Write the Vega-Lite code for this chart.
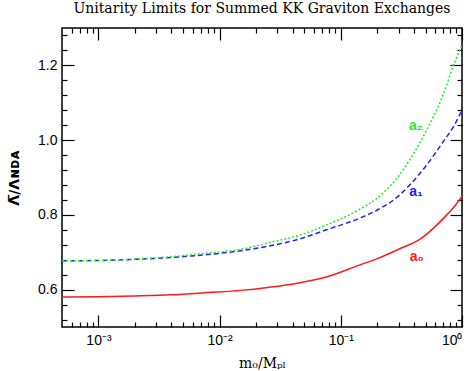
{
  "$schema": "https://vega.github.io/schema/vega-lite/v6.json",
  "width": 400,
  "height": 299,
  "autosize": "none",
  "padding": {"left": 62, "top": 28, "right": 12, "bottom": 44},
  "background": "white",
  "title": {
    "text": "Unitarity Limits for Summed KK Graviton Exchanges",
    "font": "DejaVu Serif",
    "fontSize": 14,
    "fontWeight": "normal",
    "anchor": "middle",
    "offset": 11,
    "color": "black"
  },
  "config": {
    "view": {"stroke": "black", "strokeWidth": 1.5},
    "axis": {
      "domain": false,
      "grid": false,
      "tickColor": "black",
      "tickWidth": 1.2,
      "labelColor": "black",
      "labelFont": "Liberation Sans",
      "labelFontSize": 14,
      "titleColor": "black"
    }
  },
  "datasets": {
    "curves": [
      {"series": "a0", "x": 0.0005, "y": 0.580},
      {"series": "a0", "x": 0.001, "y": 0.581},
      {"series": "a0", "x": 0.002, "y": 0.583},
      {"series": "a0", "x": 0.004, "y": 0.586},
      {"series": "a0", "x": 0.008, "y": 0.592},
      {"series": "a0", "x": 0.015, "y": 0.598},
      {"series": "a0", "x": 0.025, "y": 0.606},
      {"series": "a0", "x": 0.045, "y": 0.618},
      {"series": "a0", "x": 0.076, "y": 0.634},
      {"series": "a0", "x": 0.14, "y": 0.665},
      {"series": "a0", "x": 0.2, "y": 0.683},
      {"series": "a0", "x": 0.3, "y": 0.708},
      {"series": "a0", "x": 0.45, "y": 0.735},
      {"series": "a0", "x": 0.58, "y": 0.764},
      {"series": "a0", "x": 0.75, "y": 0.800},
      {"series": "a0", "x": 0.88, "y": 0.825},
      {"series": "a0", "x": 1.0, "y": 0.850},
      {"series": "a1", "x": 0.0005, "y": 0.677},
      {"series": "a1", "x": 0.001, "y": 0.678},
      {"series": "a1", "x": 0.002, "y": 0.681},
      {"series": "a1", "x": 0.004, "y": 0.686},
      {"series": "a1", "x": 0.008, "y": 0.694},
      {"series": "a1", "x": 0.015, "y": 0.704},
      {"series": "a1", "x": 0.025, "y": 0.716},
      {"series": "a1", "x": 0.045, "y": 0.735},
      {"series": "a1", "x": 0.076, "y": 0.760},
      {"series": "a1", "x": 0.14, "y": 0.790},
      {"series": "a1", "x": 0.2, "y": 0.813},
      {"series": "a1", "x": 0.3, "y": 0.851},
      {"series": "a1", "x": 0.37, "y": 0.880},
      {"series": "a1", "x": 0.51, "y": 0.933},
      {"series": "a1", "x": 0.70, "y": 0.996},
      {"series": "a1", "x": 0.85, "y": 1.036},
      {"series": "a1", "x": 1.0, "y": 1.080},
      {"series": "a2", "x": 0.0005, "y": 0.677},
      {"series": "a2", "x": 0.001, "y": 0.678},
      {"series": "a2", "x": 0.002, "y": 0.682},
      {"series": "a2", "x": 0.004, "y": 0.688},
      {"series": "a2", "x": 0.008, "y": 0.698},
      {"series": "a2", "x": 0.015, "y": 0.708},
      {"series": "a2", "x": 0.025, "y": 0.725},
      {"series": "a2", "x": 0.045, "y": 0.745},
      {"series": "a2", "x": 0.076, "y": 0.773},
      {"series": "a2", "x": 0.14, "y": 0.813},
      {"series": "a2", "x": 0.2, "y": 0.845},
      {"series": "a2", "x": 0.3, "y": 0.904},
      {"series": "a2", "x": 0.37, "y": 0.947},
      {"series": "a2", "x": 0.51, "y": 1.027},
      {"series": "a2", "x": 0.70, "y": 1.122},
      {"series": "a2", "x": 0.85, "y": 1.200},
      {"series": "a2", "x": 1.0, "y": 1.255}
    ],
    "labels": [
      {"series": "a0", "label": "a₀", "x": 0.424, "y": 0.687},
      {"series": "a1", "label": "a₁", "x": 0.417, "y": 0.861},
      {"series": "a2", "label": "a₂", "x": 0.417, "y": 1.038}
    ]
  },
  "layer": [
    {
      "data": {"name": "curves"},
      "transform": [{"filter": "datum.series === 'a0'"}],
      "mark": {"type": "line", "color": "#ff1a1a", "strokeWidth": 1.5, "interpolate": "monotone"},
      "encoding": {
        "x": {
          "field": "x", "type": "quantitative",
          "scale": {"type": "log", "domain": [0.0005, 1], "nice": false},
          "axis": {
            "orient": "bottom",
            "values": [0.001, 0.01, 0.1, 1],
            "tickSize": -12,
            "labelPadding": 18,
            "labelExpr": "datum.value < 0.005 ? '10⁻³' : datum.value < 0.05 ? '10⁻²' : datum.value < 0.5 ? '10⁻¹' : '10⁰'",
            "title": "m₀/Mₚₗ",
            "titleFont": "DejaVu Serif",
            "titleFontSize": 14,
            "titleFontWeight": "normal",
            "titlePadding": 9
          }
        },
        "y": {
          "field": "y", "type": "quantitative",
          "scale": {"domain": [0.5, 1.3], "nice": false, "zero": false},
          "axis": {
            "orient": "left",
            "values": [0.6, 0.8, 1.0, 1.2],
            "format": ".1f",
            "tickSize": -12,
            "labelPadding": 17,
            "title": "Λ̅/Λɴᴅᴀ",
            "titleFont": "DejaVu Sans",
            "titleFontSize": 14,
            "titleFontWeight": "bold",
            "titlePadding": 16
          }
        }
      }
    },
    {
      "data": {"name": "curves"},
      "transform": [{"filter": "datum.series === 'a1'"}],
      "mark": {"type": "line", "color": "#2020ff", "strokeWidth": 1.5, "strokeDash": [5, 3], "interpolate": "monotone"},
      "encoding": {
        "x": {
          "field": "x", "type": "quantitative",
          "scale": {"type": "log", "domain": [0.0005, 1], "nice": false},
          "axis": {
            "orient": "bottom",
            "values": [0.0006, 0.0007, 0.0008, 0.0009, 0.002, 0.003, 0.004, 0.005, 0.006, 0.007, 0.008, 0.009, 0.02, 0.03, 0.04, 0.05, 0.06, 0.07, 0.08, 0.09, 0.2, 0.3, 0.4, 0.5, 0.6, 0.7, 0.8, 0.9],
            "tickSize": -5,
            "labels": false,
            "title": null
          }
        },
        "y": {
          "field": "y", "type": "quantitative",
          "scale": {"domain": [0.5, 1.3], "nice": false, "zero": false},
          "axis": {
            "orient": "left",
            "values": [0.52, 0.56, 0.64, 0.68, 0.72, 0.76, 0.84, 0.88, 0.92, 0.96, 1.04, 1.08, 1.12, 1.16, 1.24, 1.28],
            "tickSize": -5,
            "labels": false,
            "title": null
          }
        }
      }
    },
    {
      "data": {"name": "curves"},
      "transform": [{"filter": "datum.series === 'a2'"}],
      "mark": {"type": "line", "color": "#22ee22", "strokeWidth": 1.5, "strokeDash": [2, 2], "interpolate": "monotone"},
      "encoding": {
        "x": {
          "field": "x", "type": "quantitative",
          "scale": {"type": "log", "domain": [0.0005, 1], "nice": false},
          "axis": {
            "orient": "top",
            "values": [0.001, 0.01, 0.1, 1],
            "tickSize": -12,
            "labels": false,
            "title": null
          }
        },
        "y": {
          "field": "y", "type": "quantitative",
          "scale": {"domain": [0.5, 1.3], "nice": false, "zero": false},
          "axis": {
            "orient": "right",
            "values": [0.6, 0.8, 1.0, 1.2],
            "tickSize": -12,
            "labels": false,
            "title": null
          }
        }
      }
    },
    {
      "data": {"name": "labels"},
      "mark": {"type": "text", "font": "Liberation Sans", "fontSize": 14, "fontWeight": "bold", "align": "center", "baseline": "middle"},
      "encoding": {
        "x": {
          "field": "x", "type": "quantitative",
          "scale": {"type": "log", "domain": [0.0005, 1], "nice": false},
          "axis": {
            "orient": "top",
            "values": [0.0006, 0.0007, 0.0008, 0.0009, 0.002, 0.003, 0.004, 0.005, 0.006, 0.007, 0.008, 0.009, 0.02, 0.03, 0.04, 0.05, 0.06, 0.07, 0.08, 0.09, 0.2, 0.3, 0.4, 0.5, 0.6, 0.7, 0.8, 0.9],
            "tickSize": -5,
            "labels": false,
            "title": null
          }
        },
        "y": {
          "field": "y", "type": "quantitative",
          "scale": {"domain": [0.5, 1.3], "nice": false, "zero": false},
          "axis": {
            "orient": "right",
            "values": [0.52, 0.56, 0.64, 0.68, 0.72, 0.76, 0.84, 0.88, 0.92, 0.96, 1.04, 1.08, 1.12, 1.16, 1.24, 1.28],
            "tickSize": -5,
            "labels": false,
            "title": null
          }
        },
        "text": {"field": "label", "type": "nominal"},
        "color": {
          "field": "series", "type": "nominal",
          "scale": {"domain": ["a0", "a1", "a2"], "range": ["#ff1a1a", "#2020ff", "#22ee22"]},
          "legend": null
        }
      }
    }
  ],
  "resolve": {"axis": {"x": "independent", "y": "independent"}}
}
